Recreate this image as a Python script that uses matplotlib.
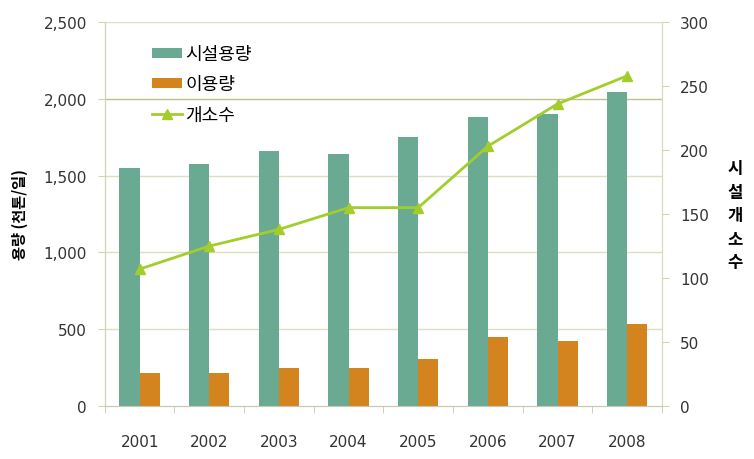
import numpy as np
import matplotlib
matplotlib.use('Agg')
import matplotlib.pyplot as plt
from matplotlib.ticker import FuncFormatter

plt.rcParams['font.family'] = ['Noto Sans CJK KR', 'DejaVu Sans']

years = ['2001', '2002', '2003', '2004', '2005', '2006', '2007', '2008']
capacity = [1550, 1575, 1660, 1640, 1750, 1880, 1900, 2042]   # 시설용량
usage = [215, 215, 247, 245, 306, 451, 423, 534]              # 이용량
sites = [107, 125, 138, 155, 155, 203, 236, 258]              # 개소수

GREEN = '#6aaa92'
ORANGE = '#d4841e'
LIME = '#a3cd2a'
GRID = '#dcdfc0'
NUM_FONT = 'DejaVu Sans'

fig = plt.figure(figsize=(7.54, 4.6), dpi=100)
ax = fig.add_axes([0.139, 0.115, 0.739, 0.835])
ax2 = ax.twinx()

x = np.arange(len(years))
w = 0.29
ax.bar(x - w / 2, capacity, w, color=GREEN, label='시설용량', zorder=3)
ax.bar(x + w / 2, usage, w, color=ORANGE, label='이용량', zorder=3)
ax2.plot(x, sites, color=LIME, lw=2, marker='^', ms=7, label='개소수')

ax.set_xlim(-0.5, len(years) - 0.5)
ax.set_ylim(0, 2500)
ax.set_yticks(range(0, 2501, 500))
ax.yaxis.set_major_formatter(FuncFormatter(lambda v, p: f'{int(v):,}'))
ax2.set_ylim(0, 300)
ax2.set_yticks(range(0, 301, 50))

for v in range(500, 2501, 500):
    c = '#b9c48c' if v == 2000 else GRID
    ax.axhline(v, color=c, lw=1, zorder=1)

ax.set_xticks(x)
ax.set_xticklabels(years)
ax.set_xticks(np.arange(-0.5, len(years), 1), minor=True)
ax.tick_params(axis='x', which='major', length=0, pad=20, labelsize=11)
ax.tick_params(axis='x', which='minor', length=5, color='#c8c8b8')
ax.tick_params(axis='y', length=5, color='#d0d4b0', labelsize=11, labelcolor='#333333', pad=8)
ax2.tick_params(axis='y', length=5, color='#d0d4b0', labelsize=11, labelcolor='#333333', pad=8)
for lab in ax.get_xticklabels() + ax.get_yticklabels() + ax2.get_yticklabels():
    lab.set_family(NUM_FONT)
    lab.set_color('#333333')

for a in (ax, ax2):
    a.spines['top'].set_visible(False)
    a.spines['left'].set_color('#d0d4b0')
    a.spines['right'].set_color('#d8dcbc')
    a.spines['bottom'].set_color('#c8c8b8')

ax.set_ylabel('용량 (천톤/일)', fontsize=11, fontweight='bold', labelpad=11)
fig.text(0.975, 0.53, '시\n설\n개\n소\n수', ha='center', va='center',
         fontsize=12, fontweight='bold', linespacing=1.4)

h1, l1 = ax.get_legend_handles_labels()
h2, l2 = ax2.get_legend_handles_labels()
ax.legend(h1 + h2, l1 + l2, loc='upper left', bbox_to_anchor=(0.055, 0.982),
          frameon=False, fontsize=13, handlelength=1.7, handleheight=0.45,
          labelspacing=0.68, handletextpad=0.15)

fig.savefig('out.png', dpi=100)
